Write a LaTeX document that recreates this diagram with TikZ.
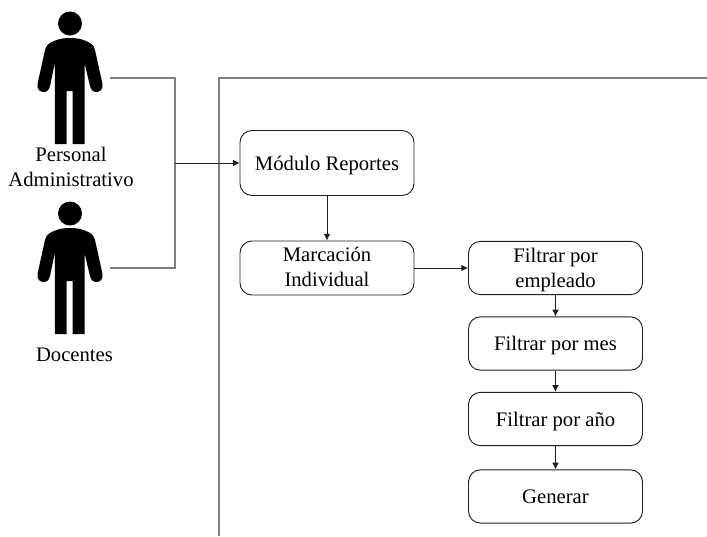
\documentclass[tikz,border=0pt]{standalone}
\usepackage{fontspec}
\setmainfont{Liberation Serif}
\usetikzlibrary{arrows.meta}
\definecolor{conn}{HTML}{1E1E1E}
\definecolor{wire}{HTML}{7F7F7F}
\newcommand{\lowertext}[2]{\raisebox{-#1}[\height][\depth]{\begin{tabular}{@{}c@{}}#2\end{tabular}}}
\tikzset{
  stepbox/.style={draw=conn,line width=0.7pt,rounded corners=9pt,minimum width=130.5pt,align=center,inner sep=0pt,font=\fontsize{15.5}{18.8}\selectfont,fill=white},
  lbl/.style={align=center,inner sep=0pt,font=\fontsize{15.5}{18.8}\selectfont},
  wireline/.style={draw=wire,line width=1pt},
  arrowline/.style={draw=conn,line width=0.7pt,-{Latex[length=5pt,width=5pt]}}
}
\begin{document}
\begin{tikzpicture}[x=0.75pt,y=-0.75pt]
\useasboundingbox (0,0) rectangle (707,536);
% persons
\foreach \dy in {0,190}{
  \begin{scope}[shift={(70,\dy)}]
    \fill[black] (0,23.5) circle (12);
    \fill[black] (0,38) .. controls (-9,38) and (-15,40) .. (-20,43)
      .. controls (-23,45) and (-24.5,47) .. (-25,50)
      -- (-32.5,84) .. controls (-33.5,90) and (-29,92) .. (-26.5,92)
      .. controls (-23,92) and (-21,90) .. (-20,86)
      -- (-15.2,63) -- (-15.2,144) -- (-3.3,144) -- (-3.3,91) -- (2.7,91) -- (2.7,144) -- (14.5,144)
      -- (14.5,63) -- (20,86) .. controls (21,90) and (23,92) .. (26.5,92)
      .. controls (29,92) and (33.5,90) .. (32.5,84)
      -- (25,50) .. controls (24.5,47) and (23,45) .. (20,43)
      .. controls (15,40) and (9,38) .. (0,38) -- cycle;
  \end{scope}
}
\coordinate (pax) at (110,78);
\coordinate (pbx) at (110,268);
\coordinate (joint) at (175,163);
\coordinate (ftl) at (219,78);
\coordinate (ftr) at (707,78);
\coordinate (fbl) at (219,536);
\node[lbl] (labelpa) at (71,166.5) {Personal\\Administrativo};
\node[lbl] (labelpb) at (74.5,354.5) {Docentes};
% frame
\draw[wireline] (fbl) -- (ftl) -- (ftr);
% boxes
\node[stepbox,minimum height=48.75pt] (mod) at (327,163) {\lowertext{1.6pt}{Módulo Reportes}};
\node[stepbox,minimum height=40.5pt] (mar) at (327,268) {\lowertext{0.8pt}{Marcación\\Individual}};
\node[stepbox,minimum height=40pt] (emp) at (555.5,268) {\lowertext{1.5pt}{Filtrar por\\empleado}};
\node[stepbox,minimum height=40pt] (mes) at (555.5,343.5) {\lowertext{1.5pt}{Filtrar por mes}};
\node[stepbox,minimum height=40pt] (ano) at (555.5,419) {\lowertext{1.5pt}{Filtrar por año}};
\node[stepbox,minimum height=40pt] (gen) at (555.5,496.5) {Generar};
% connectors
\draw[wireline] (pax) -| (joint);
\draw[wireline] (pbx) -| (joint);
\draw[arrowline] (joint) -- (mod.west);
\draw[arrowline] (mod) -- (mar);
\draw[arrowline] (mar) -- (emp);
\draw[arrowline] (emp) -- (mes);
\draw[arrowline] (mes) -- (ano);
\draw[arrowline] (ano) -- (gen);
\end{tikzpicture}
\end{document}
